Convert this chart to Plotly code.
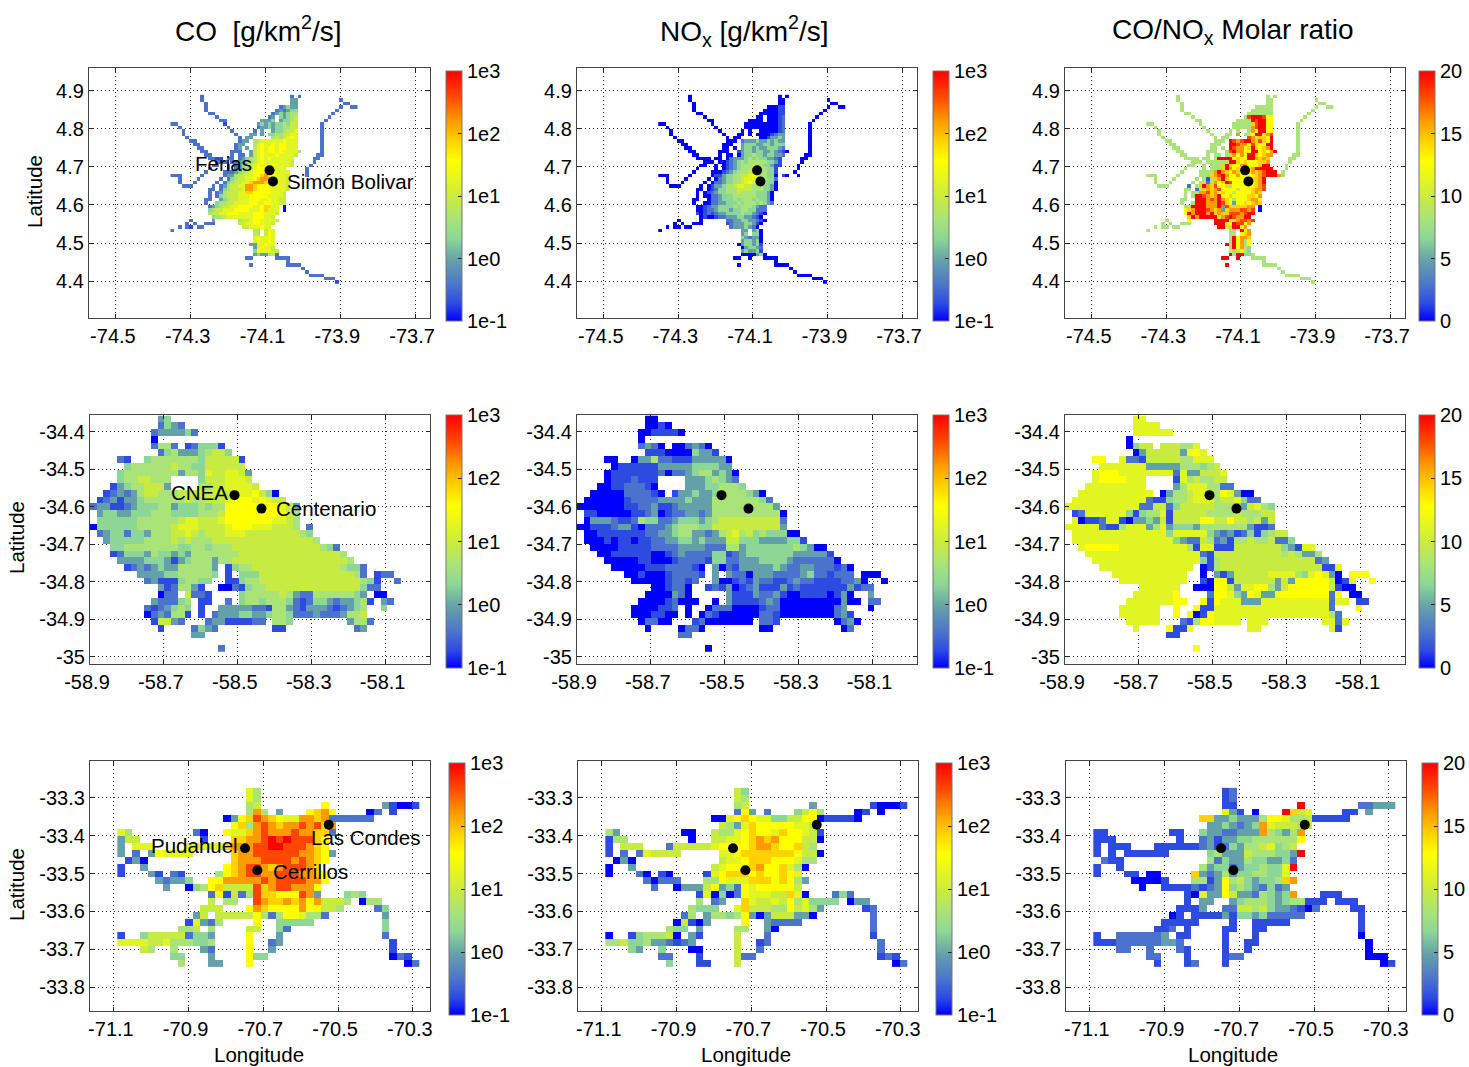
import numpy as np
import plotly.graph_objects as go

W, H = 1469, 1067
# cell codes -> position on the colour scale (0..1); '.' = no emission
LEVELS = dict(a=0, b=.07, c=.14, d=.24, e=.33, f=.41, g=.49, h=.56, i=.64, j=.72, k=.80, l=.90, m=1.0)

BOG_CO = """........c.......................c.c
........c.......................dd...........c
.........c......................dd............cc
.........c...................cdedd...........c..cc
.........c..................cdcdee..........c
..........cc...............cdedeff.........c
............c.............cd.edefg........c
.............cc.........ddde.deefg.......c
cc............b........dededeefegg......c
..c............c.......cddedeeffgg......c
...c............c.....c.d..deefggh......c
...c.............c...dd.d.eeffgghh......c
....c.............c.dd.....fgfghih......c
.....cc...........cdd.fghhhhhhihhh......c
......cc.........cdd..fhihhihiihhh......c
.......cc........cd.d.ghihiihiihhh......c
........cc......ccc..dghihiihihhhhf.....c
.........cc.....c.cc.dghihhhihhhhg.....cc
..........ccbb.cc.cdefghihihhhhhh.....cc
............ccc.ccddefghihhhhhhhg.....c
...........cc..c.cdefghihhiihhhhg....c
..........c....c.cdefghiihhihhh.....c
.........c....cccdefghiiijjihhhh....c
ccc.....c.....cddfgghhiijkiihhhg....c
..c....c.....c.cefgghhijkkkihhhg
..c...c.....c.cefgghhjkkkjiihhhg
...ccc.....c.cdfgghhkkjiiihhhhhg
..........cc.cefggghkkjiiiihhhhg
..........c.cdfggghhjjiiiiihhhg
..........c.cefggghhhiiiiihhhhg
.........cc..defgghhhiiihhihhgg
.........c..effgghhhhiihhiihhgg
..........cdefgghhiiiihhijjhh.a
..........efgghhhiiiihhhijhhh.a
..........fgghhiiihhhhiiihhhg
...........effghhhhhhhiiihhg
.....c.....d......fgghiihhhhg
....c.c..ccc......gghhiihhhg
..c.cb.cc..........gghhhihh
c.....................ff.ghh
......................gf.gih
......................hihhih
......................hihhih
.....................ddhhihh
......................dhihhg
......................eihhhgg
......................deddfgc
....................cc......cccc
...............................c
.....................c.........cccc
...................................c
....................................c
.....................................cccc
.........................................ccc
............................................b""".split("\n")

BOG_NOX = """........a.......................a.a
........a.......................aa...........a
.........a......................aa............aa
.........a...................aaabb...........a..aa
.........a..................aaaabb..........a
..........aa...............aaaaabb.........a
............a.............aa.aaabc........a
.............aa.........aaaa.aaabc.......a
aa............a........aaaaaaaaabc......a
..a............a.......aaaaaaaaabc......a
...a............a.....a.a..aaaaabc......a
...a.............a...aa.a.aaaabcdd......a
....a.............a.aa.....aabdded......a
.....aa...........aaa.cdddeddededd......a
......aa.........aaa..deeeddeedeee......a
.......aa........aa.a.deededdeeedc......a
........aa......aaa..bdeedeeddedcba.....a
.........aa.....a.aa.adeefeedeeddc.....aa
..........aaaa.aa.acdddefefeeddcb.....aa
............aaa.aabcdefefffffeedb.....a
...........aa..a.abcdefffgffeedbb....a
..........a....a.abcdefffgfffeeb.....a
.........a....aaabcdefffgggffeeb....a
aaa.....a.....abbdeeffgghigffeea.ba..a
..a....a.....a.acdeeffghhhhgfeec
..a...a.....a.accdeeffghihggfeea
...aaa.....a.abddeffghhggfffeeda
..........aa.abceefffggggfffeeda
..........a.abcdeefffgffffeeeda
..........a.aaccdeeeffffffeeeda
.........aa..accdeeefefffefeeda
.........a..aaccddeeefefffefedc
..........aabcddeeeefefffedcc
..........aabccdeeedeeffeeccc
..........babcbcddeeeefeedcba
...........abaabccdddeeddcba
.....a.....a......ccddeeddcba
....a.a..aaa......bcdddeedba
..a.aa.aa..........cdddedca
a.....................dd.dea
......................de.eea
......................edcdda
......................deedea
.....................adeedeb
......................adeedc
......................deddeb
......................aaaadea
....................aa..a...aaaa
...............................a
.....................a.........aaaa
...................................a
....................................a
.....................................aaaa
.........................................aaa
............................................a""".split("\n")

BOG_RATIO = """........f.......................f.f
........f.......................ff...........f
.........f......................ff............ff
.........f...................fffff...........f..ff
.........f..................ffffff..........f
..........ff...............fffffff.........f
............f.............flmmmlii........f
.............ff.........ffffmlmmii.......f
ff............f........fffffjlmmii......f
..f............f.......fffffklmmii......f
...f............f.....f.f..fkimmii......f
...f.............f...ff.k.fgimmikl......f
....f.............f.ff.....lkgjjim......f
.....ff...........fff.mlklmmkjljim......f
......ff.........fff..mmlkkiljiimm......f
.......ff........ff.f.mlkkijmjijkm......f
........ff......fff..flmkkiimmijikm.....f
.........ff.....f.ff.fjkikimmjijkk.....ff
..........ffff.ff.fmmmmijiimmkjkj.....ff
............fff.ffffffmmjijiiijjk.....f
...........ff..f.fffjmjiikkiiijmm....f
..........f....f.fffjmkijiiikmmmmm...f
.........f....ffffkmkjikjiiikjklmmm.f
fff.....f.....fffjklmkiikiiiijklmmmkf
..f....f.....f.fbfjkmjiiiiiijjkm
..f...f.....f.ffcfkijmliiiiiijkm
...fff.....c.fjmkjliijfiiiiiijkl
..........ff.cfjkjkliiiigiiijkkl
..........f.ffkkljkijiigiiiijkj
..........f.fmmlkjkmiijiiiijjik
.........ff..mmmklkmkjifiiijkki
.........f..fmmmkkkmljidiijijkj
..........ffmmmmkkkmdljjjjjkk.a
..........ijkmmmlkjkdjkkkllkl.a
..........imkmmmkmjkjjlllklmm
...........jmkmmmmmgklmlkkmm
.....f.....i......mmmmigkllkl
....f.f..fff......mmmhimllik
..f.ff.ff..........mmgjmmik
f.....................ff.mik
......................ff.ijk
......................fmikkj
......................fmikfi
.....................mfmikfi
......................fmikfe
......................gfgife
......................mfmmeef
....................mm..m...ffff
...............................f
.....................m.........ffff
...................................f
....................................f
.....................................ffff
.........................................fff
............................................f""".split("\n")

BUE_CO = """..........de
..........cedc
.........cddddec
.........a
.........cffc.bceeeb
..........cefdddefgge
....cb..efffffffegggggb
.....effffffgffeegggggg
....effffffffdffehgghhgd
....effggfff....eggghhhg
...bdeffgggd....ffgghhhhg
..bcdcdfggfffgggggggghhhigea
.bcdbddeffffffgffggghiiihihgg
cddbbcdeeeffdeeefeffiiiiiiiihgd
.deeddeeefffeeeefffgiiiiiiiiigf
.eeeeeeffffffghhggghiiiiiiihhgf
aeeeeeefffffghhhgggghiiihhhgggf.c
.cdeeceedfffgghgfggghhhggggggggfe
..deeeeeffffgfgfffgggggggggggggggf
...eeffffffffeeffefffgggggggggggggfec
...bceeedfeededfffffffgggggggggggggggf
....ddddeeedbdefffdffgggggggggggggggggf
.....bcdcdeddfffffd.beffgggggggggggggfeec
.......ddddeefffffe.b.eeeggggggggggggggfc.bcc
........cdbbbeffee..bbeffgggggggggggggggfeb..c
..........dbcffdb..aacbeffggggggggggggggecc
..........acc.gccb....efffffgfdccffffffed.aa
.........dcccef.bb..c.effefffecbceedcddefb.dc
........cbcdefe.b..dddddccbffdcbdddcbcdef..e
........acdcffb.b.cdddeeddeffecccdcccdffg
.........bggdc...cddbbbbcc.ffe........dffc
..........b....cedc........bb..........cd
...............dd

...................c""".split("\n")

BUE_NOX = """..........aa
..........aaba
.........aabbbba
.........a
.........cdca.aacdca
..........bbbaaaaeddb
....aa..addfccbbbddddda
.....abbbbbbdddddeeeedd
....abbbbbbbcaccdeffdeda
....abbbcbbb....dddefedc
...aabbcccba....dddeefffe
..aaaaaccccba.bddeddeffffeda
.aaaaaabccccddddedddfffffffec
aaaaaaabbccdbbcdddddfffffffffd
.bbaaaaabbcdabccddcdffffffffffa
.adddcbbcfeeccdeeedefgggggggggc
aabbbcddbacccdefffeeggggggggggd
.aabbbbbbbccddeffddcdfghfgefeeeaa
.aaababbabbccddeededddggeeeddddeeb
..aaaabbbbbccccddddcccffdeeeeeeefedaa
...aabbbbbbaabcdcccceebcdeeeeeeedddddb
....aaaaabbaaabccccbeeccdddeeeedcccccca
.....aaaaabbbccccba.dacbdddddedccddcccbca
.......aabaaabccccb.d.dccadddccccdeccbccc.aaa
........aaaaabccbc..daabcbdccbbcdccbbbbccda..a
...........aabcca..bcbdabcdbbbdbcbbbbbbbdbcc
..........aaaadca.....dbbbdccdbaabbbbabda..d
.........aaaabcaaa..a.dbbbbcdcaaaaaaaaadaa.cc
........aaaabbc.a..acccaaaabccaaaaaaaacd...a
........aaabbaa.a.acbaaaaaaccbaaaaaaaacdb
.........accaa...bcaaaaaaa.ccb........acda
..........a....acca........aa..........ac
...............cc

...................a""".split("\n")

BUE_RATIO = """..........hh
..........hhhh
..........hhhhhh
.........a
.........aegg.gggffh
..........adgggggdiih
....ii..hccbgggggffhhh
.....hhhhhhhdddddfffefg
....hiiihhhhhhhhchddgggh
....hiiiihhh....bhfgffgg
...hhhhhhhhh....dfhhhffcc
..hhhhhhhhhhh.adffghhhfihdaa
.hhhhhhhhhhhcbbeffghhhfgghecc
hhhhhhhhhhhccggcegggggfffedghfe
.bchhhhhhebeffhbgggggffffgfffgg
.habbchhbaddedgbggggiiggiggfgdg
hhhhhcbbfhhhdfhdeeedfffffffdbbc
.hhhhhhhhhhhhhhehhhhhedcdbcebefgg
.hhhhhhhhhhhhhhhedccgfcdbffgffgcce
..hiiiiihhhhhhhhhhfbhhbbbgggggggedbhh
...hhhhhhhhhhhhhhhhhcbggggggggggfgfddf
....hhhhhhhhhhhhhhhhebfggggggggggggggcd
.....hhhhhhhhhhhhhh.abfgggggggggggggggbbh
.......hhhhhhhhhhh..a.dbdggggghhhhfehihda.iii
........hhhhhhhhhh..baiibggggggdgdiiiiigabh..i
...........hhhhhh..aaaiigdhhiifdgiiiiiigbaa
..........hhhhhhi....ciihedihddiiiiiiiici.aa
.........hhhhhhhii..ibihhhdddhhhhhhhhhhchh.bb
........hhhhhh..i..ibbhhhhhhhhhhhhhhhhhc...i
........hhhhhh..i.iabihhhhhhhhhhhhhhhhhfc
.........hhhhh...cbfiihhhh.hhh........hhch
..........h....ibbi........hh..........hb
...............bb

...................i""".split("\n")

SAN_CO = """.................hf
.................hf
.................fg........i.......dbaab
.................fkf.d...ijki....ac.b
..............adijlkjihhkkjkcccccc
...............ijfklkjkklkljk
hf........ca..ihhjklkkklkkjjc
dgg........b...jjkklmlmllljI
d.hhh....hhhhhjkkkllmmlllkji
d.c.dihhhh.....jkkllllllkkjid
.bda...........jkkkllllklkji
b..d..........ijkllkjklllkj
b...db.cb....fijkllkklllkkji
.....dcdde..iikkkkklkllllkki
......d..aefijggggljkllkkki
............cibgcfljjiiilkd...efe
............g.ff..lkjjkjkikgggf.aff
...........ggg...ikjiiiikiiggf....ce
..........dg.gggggifcfiihffc.......d
.........bhdcf....i..eeeee.........e
........ffg.f....gg..ec............e
b..egggggceed....i...d.............c
hhhhgghfffeef....i..cd..............b
...gf..f...dc....i..d...............b
.......ee...d....iee................acb
........f...dd...i....................ac""".replace("I", "i").split("\n")

SAN_NOX = """.................ge
.................gf
.................fg........d.......baaab
.................cid.c...egif....ab.a
..............aahijihheeggiiabbbba
...............gfdhjiiiiihhg
fd........aa..gffhijiihjiihgb
bff........a..gghhijkjkiiigga
b.ggg...cggggghiiiijkkjiijgf
b.c.chgggg.....hhijjjjjjjigga
.ada...........ghhijjjiiihff
a..d..........ghiiijkiijhfa
a...ca.ba....bhijjjijiijih
.....caccc...ffihhhjjjijifd
......c..adddgidecihiiiiig
............bhaeacihhhggjha...cec
............f.cd..jhgghgifheeee.add
...........feee..hjgggffighfd.....bc
..........cf.dffefidadgggdda.......c
.........agbad....i..dcccc.........c
........fee.d....ff..da............c
a..befffga.db....g...c.............b
ffgeefddcbcd.....g..bc..............c
...ed..e...aa....g..c...............c
.......cc...b....gcc................bcb
........e...bb...g....................ac""".split("\n")

SAN_RATIO = """.................bc
.................bc
.................bb........m.......ccddd
.................hdb.a...mjgh....bb.d
..............jjddedddfiihffgbbbbb
...............ddedcdekhgggfg
bb........bb..eddccdddkfedfk
bbb........b..cdbddeeffffffi
b.bbb...bbbbbbcdbcedffghefg
b.b.bbbbbb.....efdddgfffeedm
.cbb...........fceddfeeddec
b..b..........fdeecdeefeehm
b...bb.aa....jdcdfdeeffeeh
.....aaaab...ffbdifgedeefjk
......a..bbbbcbcdiefedcecd
............bahddigddcfedek...bbb
............b.dd..defffedeffbbb.bbb
...........bbbd..ccggfgeddcbac....bb
..........ab.bbbbdbeedeccccc.......b
.........bbbbb....b..bbbbb.........b
........bbc.b....bb..bb............b
b..ccccccd.bb....b...b.............a
bbbccccccddc.....b..bb..............a
...cc..c...cb....b..b...............a
.......cc...b....bcc................aaa
........b...bc...b....................ab""".split("\n")

# grid origin / spacing of each city (lon0, dlon, lat0, dlat)
BOG_GRID = (-74.349, 0.01002, 4.885, -0.00904)
BUE_GRID = (-58.891, 0.01832, -34.366, -0.0180)
SAN_GRID = (-71.0808, 0.02018, -33.283, -0.01815)

BOG_STATIONS_LON, BOG_STATIONS_LAT = [-74.089, -74.080], [4.691, 4.662]
BUE_STATIONS_LON, BUE_STATIONS_LAT = [-58.509, -58.436], [-34.569, -34.605]
SAN_STATIONS_LON, SAN_STATIONS_LAT = [-70.749, -70.716, -70.525], [-33.433, -33.491, -33.371]

BOG_XT, BOG_YT = [-74.5, -74.3, -74.1, -73.9, -73.7], [4.4, 4.5, 4.6, 4.7, 4.8, 4.9]
BUE_XT, BUE_YT = [-58.9, -58.7, -58.5, -58.3, -58.1], [-35, -34.9, -34.8, -34.7, -34.6, -34.5, -34.4]
SAN_XT, SAN_YT = [-71.1, -70.9, -70.7, -70.5, -70.3], [-33.8, -33.7, -33.6, -33.5, -33.4, -33.3]

LOG_TICKS, LOG_TEXT = [-1, 0, 1, 2, 3], ["1e-1", "1e0", "1e1", "1e2", "1e3"]
RATIO_TICKS = [0, 5, 10, 15, 20]

COLORSCALE = [[0, "rgb(0,0,255)"], [.07, "rgb(45,75,225)"], [.14, "rgb(75,115,205)"],
              [.24, "rgb(100,160,170)"], [.33, "rgb(140,215,150)"], [.41, "rgb(170,228,120)"],
              [.49, "rgb(200,235,65)"], [.56, "rgb(225,245,35)"], [.64, "rgb(255,255,0)"],
              [.72, "rgb(255,210,0)"], [.80, "rgb(255,155,0)"], [.90, "rgb(255,70,0)"],
              [1, "rgb(255,0,0)"]]

FONT = "Liberation Sans, Arial, sans-serif"


def frac_grid(rows):
    n = max(len(r) for r in rows)
    return np.array([[LEVELS.get(ch, np.nan) for ch in r.ljust(n, ".")] for r in rows])


def px(x):
    return x / W


def py(y):
    return 1 - y / H


fig = go.Figure()

ROWS = [
    dict(grids=(BOG_CO, BOG_NOX, BOG_RATIO), g=BOG_GRID, st=(BOG_STATIONS_LON, BOG_STATIONS_LAT),
         xt=BOG_XT, yt=BOG_YT, xr=(-74.572, -73.66), yr=(4.303, 4.96), top=68, bot=318,
         left=(89, 577, 1065), cb_left=(446, 933, 1419), cb=(71, 321)),
    dict(grids=(BUE_CO, BUE_NOX, BUE_RATIO), g=BUE_GRID, st=(BUE_STATIONS_LON, BUE_STATIONS_LAT),
         xt=BUE_XT, yt=BUE_YT, xr=(-58.9, -57.98), yr=(-35.02, -34.355), top=415, bot=664,
         left=(90, 577, 1065), cb_left=(446, 933, 1419), cb=(415, 668)),
    dict(grids=(SAN_CO, SAN_NOX, SAN_RATIO), g=SAN_GRID, st=(SAN_STATIONS_LON, SAN_STATIONS_LAT),
         xt=SAN_XT, yt=SAN_YT, xr=(-71.164, -70.254), yr=(-33.8625, -33.203), top=761, bot=1011,
         left=(90, 578, 1066), cb_left=(449, 936, 1422), cb=(763, 1015)),
]

layout = {}
idx = 0
for row_i, R in enumerate(ROWS):
    lon0, dlon, lat0, dlat = R["g"]
    for col_i, rows in enumerate(R["grids"]):
        idx += 1
        xa, ya = f"xaxis{idx}", f"yaxis{idx}"
        xr_, yr_ = f"x{idx}", f"y{idx}"
        f = frac_grid(rows)
        xs = lon0 + dlon * np.arange(f.shape[1])
        ys = lat0 + dlat * np.arange(f.shape[0])
        if col_i < 2:
            z = -1 + 4 * f
            zmin, zmax, tv, tt = -1, 3, LOG_TICKS, LOG_TEXT
        else:
            z = 20 * f
            zmin, zmax, tv, tt = 0, 20, RATIO_TICKS, [str(v) for v in RATIO_TICKS]
        cb_top, cb_bot = R["cb"]
        fig.add_trace(go.Heatmap(
            x=xs, y=ys, z=z, xaxis=xr_, yaxis=yr_, colorscale=COLORSCALE, zmin=zmin, zmax=zmax,
            hoverongaps=False,
            colorbar=dict(x=px(R["cb_left"][col_i]), xanchor="left", y=py(cb_bot), yanchor="bottom",
                          lenmode="pixels", len=cb_bot - cb_top, thicknessmode="pixels", thickness=16,
                          xpad=0, ypad=0, tickvals=tv, ticktext=tt, ticks="inside", ticklen=4,
                          tickcolor="#222", outlinecolor="#777", outlinewidth=1, borderwidth=0,
                          tickfont=dict(size=20, family=FONT, color="black")),
        ))
        fig.add_trace(go.Scatter(x=R["st"][0], y=R["st"][1], xaxis=xr_, yaxis=yr_, mode="markers",
                                 marker=dict(color="black", size=10), showlegend=False, hoverinfo="skip"))
        left = R["left"][col_i]
        right = left + 341 if left == 89 else left + 340
        common = dict(showline=True, mirror="allticks", linecolor="#444", linewidth=1.2, ticks="inside",
                      ticklen=4, tickcolor="#222", showgrid=True, griddash="1px,3px", gridcolor="#222",
                      gridwidth=1, zeroline=False, tickfont=dict(size=20, family=FONT, color="black"))
        layout[xa] = dict(domain=[px(left), px(right)], range=list(R["xr"]), anchor=yr_, ticklabelshift=-3,
                          tickvals=R["xt"], ticktext=[f"{v:.1f}" for v in R["xt"]], **common)
        layout[ya] = dict(domain=[py(R["bot"]), py(R["top"])], range=list(R["yr"]), anchor=xr_,
                          tickvals=R["yt"], ticktext=[f"{v:g}" for v in R["yt"]], **common)


def note(text, x, y, size=20.5, xanchor="center", textangle=0):
    return dict(text=text, x=px(x), y=py(y), xref="paper", yref="paper", showarrow=False,
                xanchor=xanchor, yanchor="middle", textangle=textangle,
                font=dict(size=size, family=FONT, color="black"))


annotations = [
    note("CO\u00a0\u00a0[g/km<sup>2</sup>/s]", 258, 29, 28),
    note("NO<sub>x</sub> [g/km<sup>2</sup>/s]", 745, 31, 28),
    note("CO/NO<sub>x</sub> Molar ratio", 1233, 31, 28),
    note("Latitude", 35, 192, textangle=-90),
    note("Latitude", 16, 538, textangle=-90),
    note("Latitude", 16, 885, textangle=-90),
    note("Longitude", 259, 1054),
    note("Longitude", 746, 1054),
    note("Longitude", 1233, 1054),
    note("Ferias", 193, 163, xanchor="left"),
    note("Simón Bolivar", 285, 181, xanchor="left"),
    note("CNEA", 169, 493, xanchor="left"),
    note("Centenario", 274, 509, xanchor="left"),
    note("Pudahuel", 149, 845, xanchor="left"),
    note("Cerrillos", 271, 871, xanchor="left"),
    note("Las Condes", 309, 837, xanchor="left"),
]

fig.update_layout(width=W, height=H, margin=dict(l=0, r=0, t=0, b=0, autoexpand=False), paper_bgcolor="white",
                  plot_bgcolor="white", showlegend=False, annotations=annotations, **layout)
fig.write_html("out.html", config=dict(displayModeBar=False),
               post_script="document.body.style.margin='0';document.body.style.overflow='hidden';")
